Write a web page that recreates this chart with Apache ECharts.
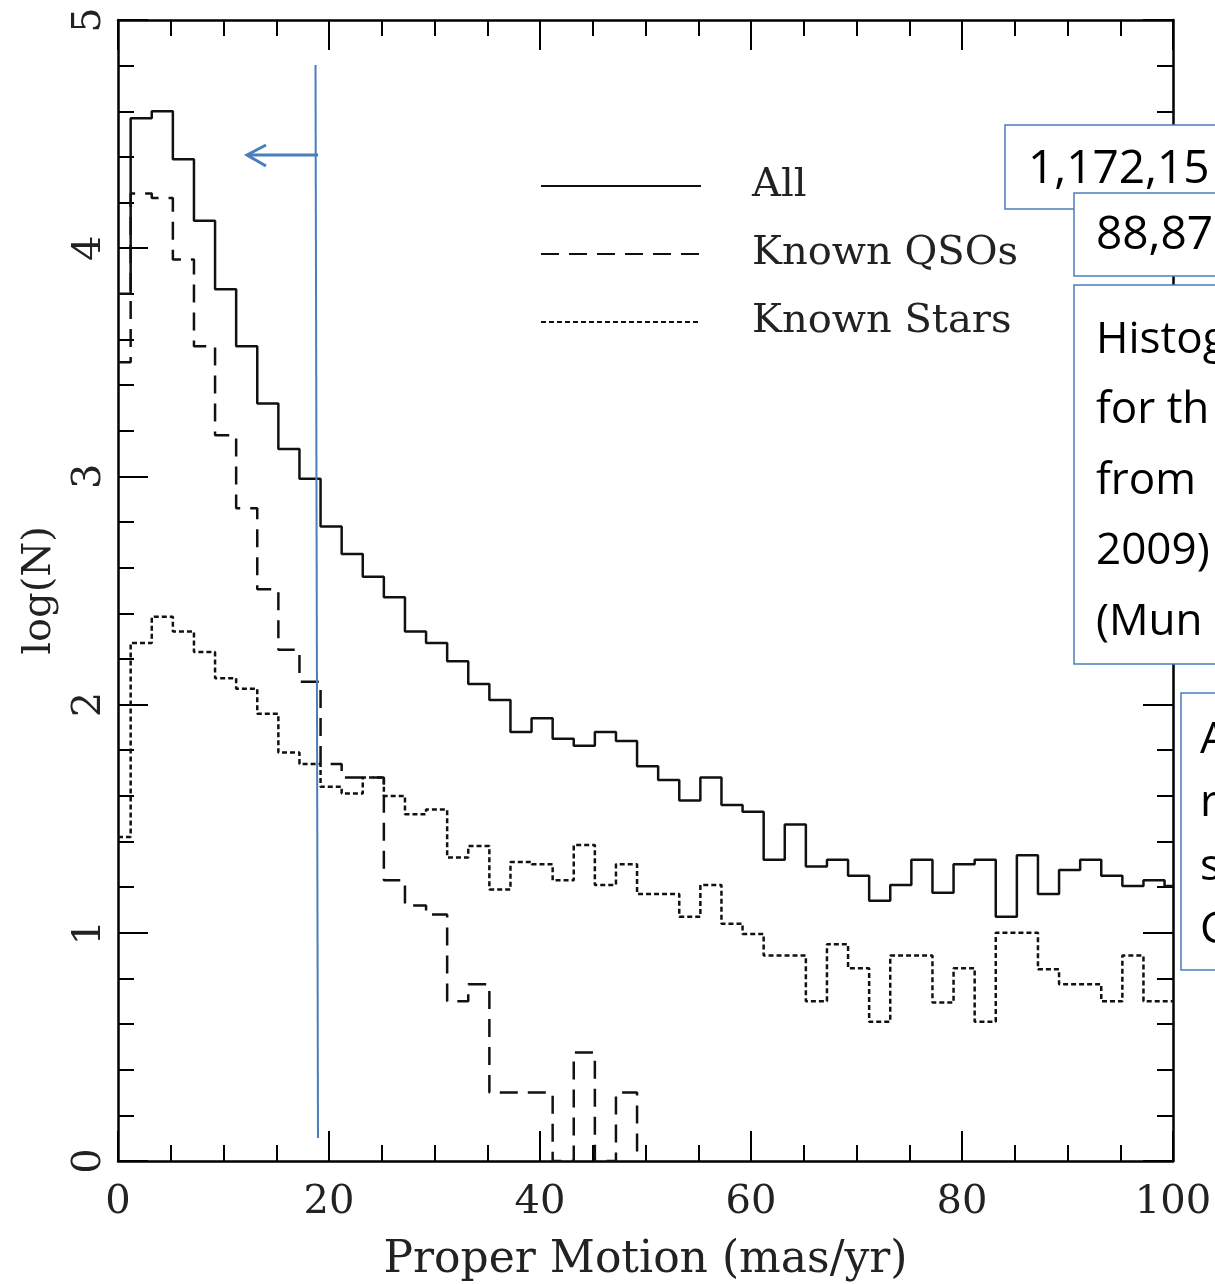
<!DOCTYPE html>
<html>
<head>
<meta charset="utf-8">
<script src="https://cdn.jsdelivr.net/npm/echarts@6/dist/echarts.min.js"></script>
<style>
  html, body { margin: 0; padding: 0; background: #fff; }
  #main { width: 1215px; height: 1284px; }
</style>
</head>
<body>
<div id="main"></div>
<script>
// left edge of each bin (mas/yr); the last bin runs to 100
var binEdges = [0, 1.2, 3.2, 5.2, 7.2, 9.2, 11.2, 13.2, 15.2, 17.2, 19.2,
    21.2, 23.2, 25.2, 27.2, 29.2, 31.2, 33.2, 35.2, 37.2, 39.2,
    41.2, 43.2, 45.2, 47.2, 49.2, 51.2, 53.2, 55.2, 57.2, 59.2,
    61.2, 63.2, 65.2, 67.2, 69.2, 71.2, 73.2, 75.2, 77.2, 79.2,
    81.2, 83.2, 85.2, 87.2, 89.2, 91.2, 93.2, 95.2, 97.2, 99.2];

// log(N) per bin
var allVals = [3.80, 4.57, 4.60, 4.39, 4.12, 3.82, 3.57, 3.32, 3.12, 2.99,
    2.78, 2.66, 2.56, 2.47, 2.32, 2.27, 2.19, 2.09, 2.02, 1.88,
    1.94, 1.85, 1.82, 1.88, 1.84, 1.73, 1.67, 1.58, 1.68, 1.56,
    1.53, 1.32, 1.475, 1.29, 1.32, 1.25, 1.14, 1.21, 1.32, 1.175,
    1.30, 1.32, 1.07, 1.34, 1.17, 1.275, 1.32, 1.25, 1.205, 1.23, 1.205];

var qsoVals = [3.50, 4.24, 4.22, 3.95, 3.57, 3.18, 2.86, 2.505, 2.24, 2.10,
    1.74, 1.68, 1.68, 1.23, 1.12, 1.08, 0.70, 0.775, 0.30, 0.30,
    0.30, 0, 0.475, 0, 0.30];

var starVals = [1.42, 2.27, 2.385, 2.32, 2.23, 2.115, 2.07, 1.96, 1.79, 1.74,
    1.64, 1.61, 1.68, 1.60, 1.52, 1.54, 1.33, 1.38, 1.19, 1.31,
    1.30, 1.23, 1.385, 1.21, 1.30, 1.17, 1.17, 1.07, 1.21, 1.04,
    0.995, 0.90, 0.90, 0.70, 0.95, 0.845, 0.61, 0.90, 0.90, 0.695,
    0.845, 0.61, 1.00, 1.00, 0.84, 0.775, 0.775, 0.70, 0.90, 0.70, 0.70];

var seriesNames = ['All', 'Known QSOs', 'Known Stars'];
var xTicks = [0, 20, 40, 60, 80, 100];
var yTicks = [0, 1, 2, 3, 4, 5];

// step points: one per bin edge, plus the closing edge
function steps(vals, endVal) {
    var pts = [];
    for (var i = 0; i < vals.length; i++) {
        pts.push([binEdges[i], vals[i]]);
    }
    var endX = i < binEdges.length ? binEdges[i] : 100;
    pts.push([endX, endVal === undefined ? vals[vals.length - 1] : endVal]);
    return pts;
}

var serif = 'DejaVu Serif';
var boxFont = 'Open Sans';
var blue = '#4a7ebb';

function axisX(pos, showLabel) {
    return {
        type: 'value', position: pos, min: xTicks[0], max: xTicks[xTicks.length - 1], interval: 20,
        axisLine: { show: true, onZero: false, lineStyle: { color: '#000', width: 2.5 } },
        axisTick: { show: true, inside: true, length: 30, lineStyle: { color: '#000', width: 2 } },
        minorTick: { show: true, splitNumber: 4, length: 16, lineStyle: { color: '#000', width: 2 } },
        splitLine: { show: false },
        axisLabel: { show: showLabel, margin: 22, fontFamily: serif, fontSize: 40, color: '#222' },
        name: showLabel ? 'Proper Motion (mas/yr)' : '',
        nameLocation: 'middle', nameGap: 78,
        nameTextStyle: { fontFamily: serif, fontSize: 44, color: '#222' }
    };
}
function axisY(pos, showLabel) {
    return {
        type: 'value', position: pos, min: yTicks[0], max: yTicks[yTicks.length - 1], interval: 1,
        axisLine: { show: true, onZero: false, lineStyle: { color: '#000', width: 2.5 } },
        axisTick: { show: true, inside: true, length: 30, lineStyle: { color: '#000', width: 2 } },
        minorTick: { show: true, splitNumber: 5, length: 16, lineStyle: { color: '#000', width: 2 } },
        splitLine: { show: false },
        axisLabel: { show: showLabel, rotate: 90, margin: 8, fontFamily: serif, fontSize: 40, color: '#222' },
        name: showLabel ? 'log(N)' : '',
        nameLocation: 'middle', nameRotate: 90, nameGap: 58,
        nameTextStyle: { fontFamily: serif, fontSize: 40, color: '#222' }
    };
}

// annotation box drawn over the plot frame
function box(x, y, w, h, lines, fontSize, firstY, lineGap, textX) {
    var items = [{
        type: 'rect', z: 100, shape: { x: x, y: y, width: w, height: h },
        style: { fill: '#fff', stroke: blue, lineWidth: 1.5 }
    }];
    for (var i = 0; i < lines.length; i++) {
        items.push({
            type: 'text', z: 101, x: textX, y: firstY + i * lineGap,
            style: { text: lines[i], fill: '#000', font: fontSize + 'px "' + boxFont + '"', verticalAlign: 'middle' }
        });
    }
    return items;
}

var graphics = [
    { type: 'line', z: 90, shape: { x1: 315.5, y1: 65, x2: 318, y2: 1138 }, style: { stroke: blue, lineWidth: 2 } },
    { type: 'line', z: 90, shape: { x1: 318, y1: 155, x2: 248, y2: 155 }, style: { stroke: blue, lineWidth: 3 } },
    { type: 'polyline', z: 90, shape: { points: [[266, 145], [247, 155], [266, 166]] }, style: { stroke: blue, lineWidth: 3, fill: null } }
];
graphics = graphics
    .concat(box(1005, 125, 260, 84, ['1,172,15'], 46, 170, 0, 1028))
    .concat(box(1074, 193, 200, 83, ['88,87'], 46, 236, 0, 1096))
    .concat(box(1074, 285, 200, 379, ['Histog', 'for th', 'from', '2009)', '(Mun'], 44, 340, 70.5, 1096))
    .concat(box(1181, 693, 100, 277, ['A', 'r', 's', 'C'], 44, 740, 63.5, 1200));

var option = {
    backgroundColor: '#fff',
    animation: false,
    grid: { left: 118, right: 42, top: 20, bottom: 123, outerBoundsMode: 'none' },
    xAxis: [axisX('bottom', true), axisX('top', false)],
    yAxis: [axisY('left', true), axisY('right', false)],
    legend: {
        orient: 'vertical', left: 540, top: 166, padding: 0, itemWidth: 160, itemHeight: 14, itemGap: 28,
        data: seriesNames,
        itemStyle: { opacity: 0 },
        textStyle: { fontFamily: serif, fontSize: 40, color: '#222', lineHeight: 40, padding: [0, 0, 0, 46] }
    },
    series: [
        {
            name: seriesNames[0], type: 'line', step: 'end', symbol: 'none', data: steps(allVals),
            lineStyle: { color: '#111', width: 2.5, type: 'solid' }, itemStyle: { color: '#111' }
        },
        {
            name: seriesNames[1], type: 'line', step: 'end', symbol: 'none', data: steps(qsoVals, 0),
            lineStyle: { color: '#111', width: 2.5, type: [18, 10] }, itemStyle: { color: '#111' }
        },
        {
            name: seriesNames[2], type: 'line', step: 'end', symbol: 'none', data: steps(starVals),
            lineStyle: { color: '#111', width: 2.5, type: [5, 3] }, itemStyle: { color: '#111' }
        }
    ],
    graphic: graphics
};

var myChart = echarts.init(document.getElementById('main'));
myChart.setOption(option);
</script>
</body>
</html>
